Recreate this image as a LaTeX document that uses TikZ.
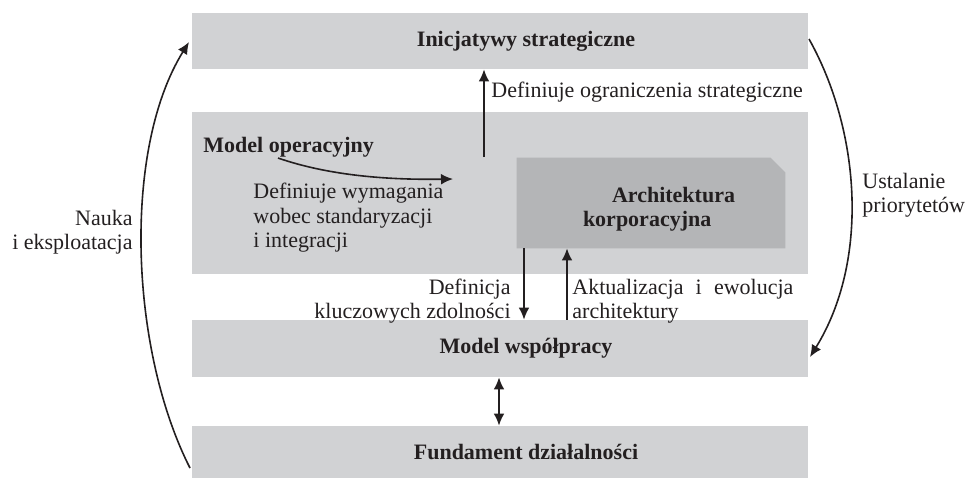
\documentclass[tikz,border=0pt]{standalone}
\usepackage{fontspec}
\setmainfont{Liberation Serif}
\usetikzlibrary{arrows.meta}
\definecolor{boxgray}{RGB}{209,210,212}
\definecolor{archgray}{RGB}{180,181,183}
\definecolor{ink}{RGB}{35,31,32}
\begin{document}
\begin{tikzpicture}[x=0.5pt,y=-0.5pt,
  font=\fontsize{11}{12.25}\selectfont, text=ink,
  box/.style={fill=boxgray, draw=none, inner sep=0, minimum width=308pt,
    font=\fontsize{11}{12.25}\selectfont\bfseries},
  lbl/.style={inner sep=0},
  tip/.tip={Latex[length=6pt,width=5.4pt]},
  arr/.style={draw=ink, line width=0.8pt, -tip},
  darr/.style={draw=ink, line width=0.8pt, tip-tip}]
\useasboundingbox (0,0) rectangle (968,479);
% main boxes
\node[box, minimum height=28pt] (ini) at (500,41) {\hspace*{26pt}Inicjatywy strategiczne};
\node[box, minimum height=81pt] (opm) at (500,193) {};
\node[box, minimum height=28.5pt] (wsp) at (500,348.5) {\hspace*{26pt}\raisebox{-1.5pt}{Model współpracy}};
\node[box, minimum height=26pt] (fund) at (500,452) {\hspace*{26pt}\raisebox{-1.5pt}{Fundament działalności}};
\node[lbl, anchor=base west, font=\fontsize{11}{12.25}\selectfont\bfseries] (opl) at (203,152) {Model operacyjny};
% architecture box (cut top-right corner)
\node[inner sep=0, minimum width=134pt, minimum height=45pt] (arch) at (651,203) {};
\fill[archgray] (arch.south west) -- (arch.north west)
  -- ([xshift=-7.5pt]arch.north east) -- ([yshift=-7.5pt]arch.north east)
  -- (arch.south east) -- cycle;
\node[lbl, align=left, yshift=-3pt, font=\fontsize{11}{12.25}\selectfont\bfseries] (archt) at (arch.center)
  {\hspace*{22.5pt}Architektura\\\hspace*{8pt}korporacyjna};
% strategic constraints
\coordinate (a1) at (484,157);
\draw[arr] (a1) -- (a1 |- ini.south);
\node[lbl, anchor=west] (t1) at (491,92) {Definiuje ograniczenia strategiczne};
% requirements curve
\coordinate (c0) at (278,158);
\coordinate (c3) at (453,179);
\draw[arr] (c0) .. controls (330,176) and (390,180) .. (c3);
\node[lbl, anchor=west, align=left] (t2) at (253,218) {Definiuje wymagania\\wobec standaryzacji\\i integracji};
% capabilities / architecture update
\coordinate (d1) at (524,0);
\coordinate (d2) at (567,0);
\draw[arr] (arch.south -| d1) -- (wsp.north -| d1);
\draw[arr] (wsp.north -| d2) -- (arch.south -| d2);
\node[lbl, anchor=east, align=right] (t3) at (511,301) {Definicja\\kluczowych zdolności};
\node[lbl, anchor=west, align=left, text width=110.5pt] (t4) at (572,301) {Aktualizacja\hfill i\hfill ewolucja\\architektury};
% cooperation <-> foundation
\coordinate (d3) at (499,0);
\draw[darr] (wsp.south -| d3) -- (fund.north -| d3);
% left loop
\coordinate (l0) at (190,468);
\coordinate (l1) at (189,42);
\draw[arr] (l0) .. controls (130,350) and (122,150) .. (l1);
\node[lbl, anchor=east, align=right] (t5) at (133,232) {Nauka\\i eksploatacja};
% right loop
\coordinate (r0) at (809,39);
\coordinate (r1) at (810,357);
\draw[arr] (r0) .. controls (860,130) and (870,260) .. (r1);
\node[lbl, anchor=west, align=left] (t6) at (862,195) {Ustalanie\\priorytetów};
\end{tikzpicture}
\end{document}
